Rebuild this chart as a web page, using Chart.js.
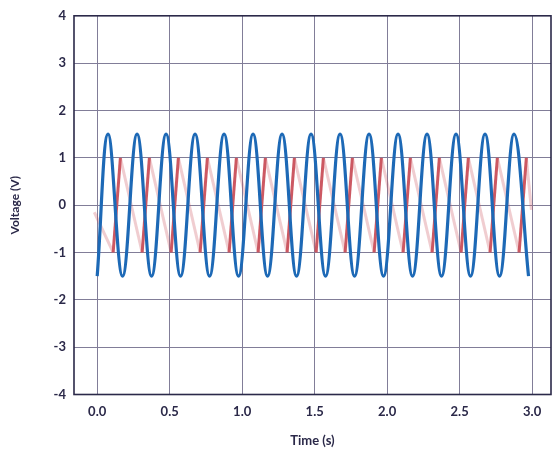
<!DOCTYPE html>
<html>
<head>
<meta charset="utf-8">
<script src="https://cdn.jsdelivr.net/npm/chart.js@4/dist/chart.umd.min.js"></script>
<style>
  html, body { margin: 0; padding: 0; background: #fff; }
  #wrap { width: 560px; height: 458px; }
</style>
</head>
<body>
<div id="wrap"><canvas id="lineChartVolt"></canvas></div>
<script>
// values: time (s) and voltage (V) at each turning point
var blue_times = [0.000, 0.075, 0.175, 0.275, 0.375, 0.475, 0.575, 0.675, 0.775, 0.875,
                  0.975, 1.075, 1.175, 1.275, 1.375, 1.475, 1.575, 1.675, 1.775, 1.875,
                  1.975, 2.075, 2.175, 2.275, 2.375, 2.475, 2.575, 2.675, 2.775, 2.875, 2.975];
var blue_volts = [-1.5, 1.5, -1.5, 1.5, -1.5, 1.5, -1.5, 1.5, -1.5, 1.5,
                  -1.5, 1.5, -1.5, 1.5, -1.5, 1.5, -1.5, 1.5, -1.5, 1.5,
                  -1.5, 1.5, -1.5, 1.5, -1.5, 1.5, -1.5, 1.5, -1.5, 1.5, -1.5];

var red_times = [-0.02, 0.11, 0.16, 0.31, 0.36, 0.51, 0.56, 0.71, 0.76, 0.91, 0.96,
                 1.11, 1.16, 1.31, 1.36, 1.51, 1.56, 1.71, 1.76, 1.91, 1.96,
                 2.11, 2.16, 2.31, 2.36, 2.51, 2.56, 2.71, 2.76, 2.91, 2.96, 2.995];
var red_volts = [-0.15, -1, 1, -1, 1, -1, 1, -1, 1, -1, 1,
                 -1, 1, -1, 1, -1, 1, -1, 1, -1, 1,
                 -1, 1, -1, 1, -1, 1, -1, 1, -1, 1, -0.1];

var x_ticks = [0, 0.5, 1.0, 1.5, 2.0, 2.5, 3.0];
var y_ticks = [-4, -3, -2, -1, 0, 1, 2, 3, 4];

function pairs(xs, ys) {
    var out = [];
    for (var i = 0; i < xs.length; i++) out.push({x: xs[i], y: ys[i]});
    return out;
}

var ink = '#2b2949';
var red = '#cc5862';

var frame = {
    id: 'frame',
    afterDatasetsDraw: function(chart) {
        var a = chart.chartArea, c = chart.ctx;
        c.save();
        c.strokeStyle = ink;
        c.lineWidth = 1.6;
        c.strokeRect(a.left, a.top, a.right - a.left, a.bottom - a.top);
        c.restore();
    }
};

new Chart(document.getElementById("lineChartVolt"), {
    type: 'line',
    data: {
        datasets: [
            {
                label: "Sine",
                data: pairs(blue_times, blue_volts),
                borderColor: '#1d69b6',
                borderWidth: 3.2,
                pointRadius: 0,
                tension: 0.4,
                order: 0
            },
            {
                label: "Sawtooth",
                data: pairs(red_times, red_volts),
                borderColor: red,
                borderWidth: 3,
                pointRadius: 0,
                tension: 0,
                order: 1,
                segment: {
                    borderColor: function(ctx) {
                        return ctx.p1.parsed.y > ctx.p0.parsed.y ? red : 'rgba(204,88,98,0.3)';
                    }
                }
            }
        ]
    },
    options: {
        responsive: true,
        maintainAspectRatio: false,
        animation: false,
        layout: { padding: { left: 0, right: 9, top: 13.5, bottom: 0 } },
        plugins: {
            legend: { display: false },
            tooltip: { enabled: false }
        },
        scales: {
            x: {
                type: 'linear',
                min: -0.16,
                max: 3.13,
                afterFit: function(s) { s.height = 63.5; },
                afterBuildTicks: function(s) { s.ticks = x_ticks.map(function(v) { return {value: v}; }); },
                ticks: {
                    padding: 10,
                    color: ink,
                    font: { family: 'Lato', size: 13, weight: 'bold' },
                    callback: function(v) { return Number(v).toFixed(1); }
                },
                grid: { color: '#817d98', lineWidth: 1, drawTicks: false },
                border: { display: false },
                title: {
                    display: true,
                    text: 'Time (s)',
                    color: ink,
                    font: { family: 'Lato', size: 13, weight: 'bold' },
                    padding: { top: 0, bottom: 9 }
                }
            },
            y: {
                min: -4,
                max: 4,
                afterFit: function(s) { s.width = 74; },
                afterBuildTicks: function(s) { s.ticks = y_ticks.map(function(v) { return {value: v}; }); },
                ticks: {
                    padding: 8,
                    color: ink,
                    font: { family: 'Lato', size: 13, weight: 'bold' }
                },
                grid: { color: '#817d98', lineWidth: 1, drawTicks: false },
                border: { display: false },
                title: {
                    display: true,
                    text: 'Voltage (V)',
                    color: ink,
                    font: { family: 'Lato', size: 12, weight: 'bold' },
                    padding: { top: 8, bottom: 0 }
                }
            }
        }
    },
    plugins: [frame]
});
</script>
</body>
</html>
